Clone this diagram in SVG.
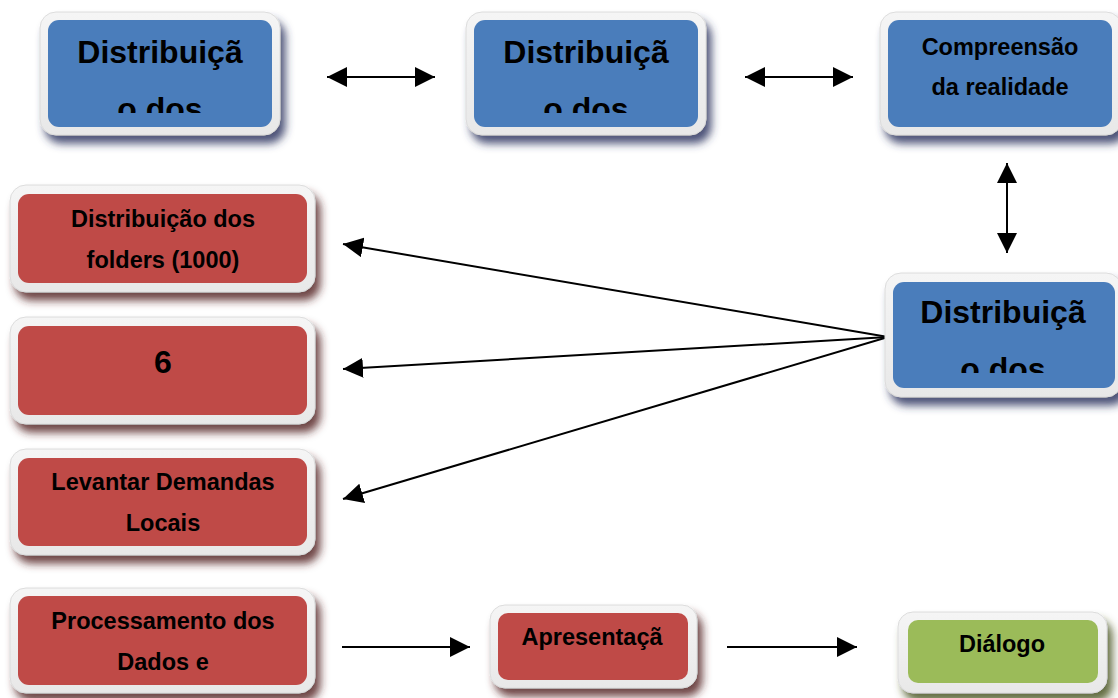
<svg xmlns="http://www.w3.org/2000/svg" width="1118" height="698" viewBox="0 0 1118 698">
<defs>
<filter id="shB" x="-10%" y="-10%" width="130%" height="140%"><feDropShadow dx="5" dy="8" stdDeviation="4" flood-color="#2e3460" flood-opacity="0.85"/></filter>
<filter id="shR" x="-10%" y="-10%" width="130%" height="140%"><feDropShadow dx="5" dy="8" stdDeviation="4" flood-color="#552826" flood-opacity="0.85"/></filter>
<filter id="shG" x="-10%" y="-10%" width="130%" height="140%"><feDropShadow dx="5" dy="8" stdDeviation="4" flood-color="#465224" flood-opacity="0.85"/></filter>
<linearGradient id="frame" x1="0" y1="0" x2="0" y2="1"><stop offset="0" stop-color="#f5f5f5"/><stop offset="1" stop-color="#e8e8e8"/></linearGradient>
<marker id="ah" viewBox="0 0 20 20" refX="20" refY="10" markerWidth="20" markerHeight="20" markerUnits="userSpaceOnUse" orient="auto-start-reverse"><path d="M0,0 L20,10 L0,20 Z" fill="#000"/></marker>
<clipPath id="c1"><rect x="40" y="12" width="240" height="101"/></clipPath>
<clipPath id="c2"><rect x="466" y="12" width="240" height="101"/></clipPath>
<clipPath id="c4"><rect x="885" y="273" width="233" height="100"/></clipPath>
</defs>
<style>
.fr{fill:url(#frame);stroke:#dcdcdc;stroke-width:1}
.bl{fill:#4a7dbb}
.rd{fill:#bf4a47}
.gr{fill:#9bbb59}
text{font-family:"Liberation Sans",Arial,sans-serif;font-weight:bold;fill:#000;text-anchor:middle}
.big{font-size:32px}
.sm{font-size:23.5px}
.ln{stroke:#000;stroke-width:2;fill:none}
</style>
<g id="connectors">
<line class="ln" x1="327" y1="77" x2="435" y2="77" marker-start="url(#ah)" marker-end="url(#ah)"/>
<line class="ln" x1="745" y1="77" x2="853" y2="77" marker-start="url(#ah)" marker-end="url(#ah)"/>
<line class="ln" x1="1007" y1="163" x2="1007" y2="253" marker-start="url(#ah)" marker-end="url(#ah)"/>
<line class="ln" x1="888" y1="337" x2="343" y2="244" marker-end="url(#ah)"/>
<line class="ln" x1="888" y1="337" x2="343" y2="369" marker-end="url(#ah)"/>
<line class="ln" x1="888" y1="337" x2="343" y2="499" marker-end="url(#ah)"/>
<line class="ln" x1="342" y1="647" x2="470" y2="647" marker-end="url(#ah)"/>
<line class="ln" x1="727" y1="647" x2="857" y2="647" marker-end="url(#ah)"/>
</g>
<g id="n1">
<rect class="fr" x="40" y="12" width="240" height="123" rx="16" filter="url(#shB)"/>
<rect class="bl" x="48" y="20" width="224" height="107" rx="11"/>
<g clip-path="url(#c1)"><text class="big" x="160" y="63">Distribuiçã</text><text class="big" x="160" y="120">o dos</text></g>
</g>
<g id="n2">
<rect class="fr" x="466" y="12" width="240" height="123" rx="16" filter="url(#shB)"/>
<rect class="bl" x="474" y="20" width="224" height="107" rx="11"/>
<g clip-path="url(#c2)"><text class="big" x="586" y="63">Distribuiçã</text><text class="big" x="586" y="120">o dos</text></g>
</g>
<g id="n3">
<rect class="fr" x="880" y="12" width="242" height="123" rx="16" filter="url(#shB)"/>
<rect class="bl" x="888" y="20" width="224" height="107" rx="11"/>
<text class="sm" x="1000" y="55">Compreensão</text>
<text class="sm" x="1000" y="95">da realidade</text>
</g>
<g id="n4">
<rect class="fr" x="885" y="273" width="237" height="124" rx="16" filter="url(#shB)"/>
<rect class="bl" x="893" y="282" width="222" height="106" rx="11"/>
<g clip-path="url(#c4)"><text class="big" x="1003" y="323">Distribuiçã</text><text class="big" x="1003" y="380">o dos</text></g>
</g>
<g id="r1">
<rect class="fr" x="10" y="185" width="305" height="107" rx="16" filter="url(#shR)"/>
<rect class="rd" x="18" y="194" width="289" height="89" rx="11"/>
<text class="sm" x="163" y="227">Distribuição dos</text>
<text class="sm" x="163" y="268">folders (1000)</text>
</g>
<g id="r2">
<rect class="fr" x="10" y="317" width="305" height="107" rx="16" filter="url(#shR)"/>
<rect class="rd" x="18" y="326" width="289" height="89" rx="11"/>
<text class="big" x="163" y="373">6</text>
</g>
<g id="r3">
<rect class="fr" x="10" y="449" width="305" height="106" rx="16" filter="url(#shR)"/>
<rect class="rd" x="18" y="458" width="289" height="88" rx="11"/>
<text class="sm" x="163" y="490">Levantar Demandas</text>
<text class="sm" x="163" y="531">Locais</text>
</g>
<g id="r4">
<rect class="fr" x="10" y="588" width="305" height="105" rx="16" filter="url(#shR)"/>
<rect class="rd" x="18" y="596" width="289" height="89" rx="11"/>
<text class="sm" x="163" y="629">Processamento dos</text>
<text class="sm" x="163" y="670">Dados e</text>
</g>
<g id="r5">
<rect class="fr" x="490" y="605" width="207" height="83" rx="15" filter="url(#shR)"/>
<rect class="rd" x="498" y="613" width="190" height="67" rx="10"/>
<text class="sm" x="592" y="645">Apresentaçã</text>
</g>
<g id="g1">
<rect class="fr" x="898" y="612" width="209" height="81" rx="15" filter="url(#shG)"/>
<rect class="gr" x="908" y="620" width="190" height="63" rx="10"/>
<text class="sm" x="1002" y="652">Diálogo</text>
</g>
</svg>
